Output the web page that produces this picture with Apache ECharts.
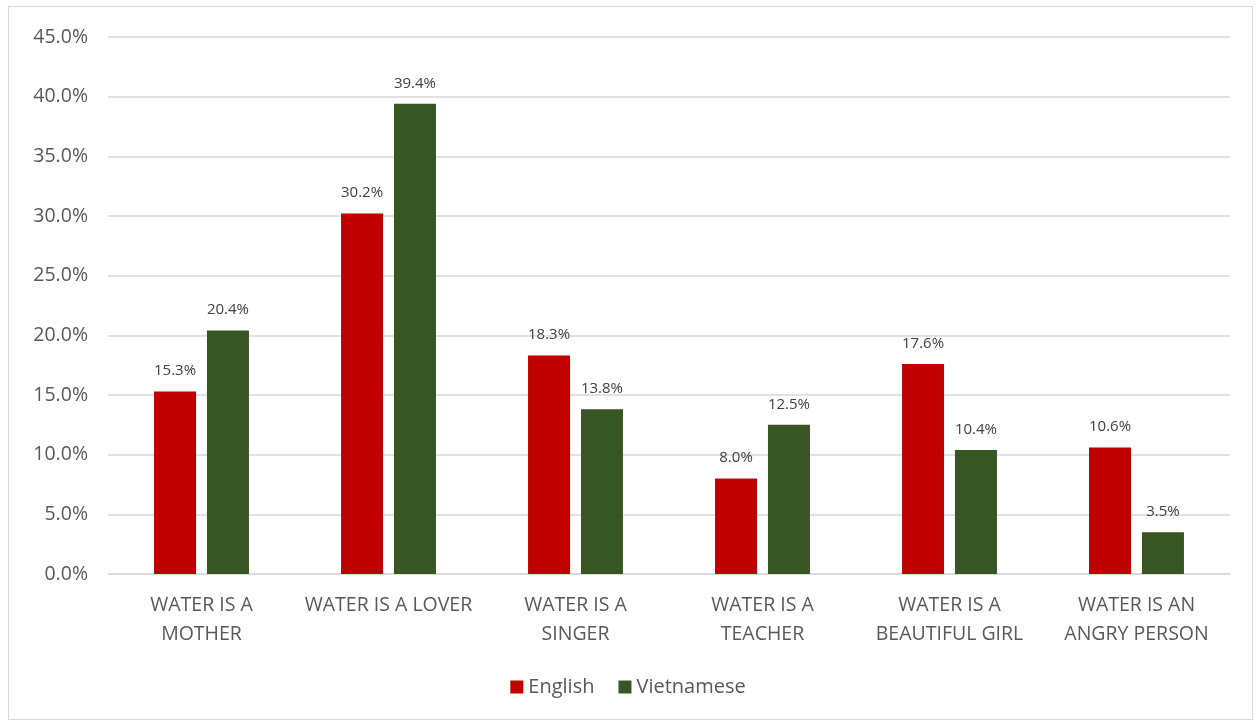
<!DOCTYPE html>
<html><head><meta charset="utf-8">
<script src="https://cdn.jsdelivr.net/npm/echarts@6/dist/echarts.min.js"></script>
<style>html,body{margin:0;padding:0;background:#fff}#c{width:1256px;height:724px}
#frame{position:absolute;left:8px;top:6px;width:1245px;height:714px;border:1px solid #d9d9d9;box-sizing:border-box;pointer-events:none}</style>
</head><body><div id="c"></div><div id="frame"></div>
<script>
const categories = ['WATER IS A\nMOTHER','WATER IS A LOVER','WATER IS A\nSINGER','WATER IS A\nTEACHER','WATER IS A\nBEAUTIFUL GIRL','WATER IS AN\nANGRY PERSON'];
const english = [15.3, 30.2, 18.3, 8.0, 17.6, 10.6];
const vietnamese = [20.4, 39.4, 13.8, 12.5, 10.4, 3.5];
const seriesNames = ['English','Vietnamese'];
const font = 'Open Sans, Liberation Sans, sans-serif';
const chart = echarts.init(document.getElementById('c'));
const lbl = {show:true, position:'top', distance:13, color:'#404040', fontSize:15, fontFamily:font, formatter:p=>p.value.toFixed(1)+'%'};
chart.setOption({
  animation:false,
  grid:{left:108, right:26, top:37, bottom:150},
  legend:{bottom:22, left:'center', itemWidth:13, itemHeight:13, itemGap:24,
    textStyle:{fontSize:20, color:'#595959', fontFamily:font}, icon:'rect', data:seriesNames},
  xAxis:{type:'category', data:categories,
    axisLine:{lineStyle:{color:'#d9d9d9', width:1.5}}, axisTick:{show:false},
    axisLabel:{color:'#595959', fontSize:19.5, fontFamily:font, margin:17, lineHeight:29, interval:0}},
  yAxis:{type:'value', min:0, max:45, interval:5,
    axisLabel:{color:'#595959', fontSize:19.5, fontFamily:font, margin:20, formatter:v=>v.toFixed(1)+'%'},
    splitLine:{lineStyle:{color:'#d9d9d9', width:1.5}}, axisLine:{show:false}, axisTick:{show:false}},
  series:[
    {name:seriesNames[0], type:'bar', data:english, barWidth:42, barGap:'26%', itemStyle:{color:'#C00000'}, label:lbl},
    {name:seriesNames[1], type:'bar', data:vietnamese, barWidth:42, itemStyle:{color:'#375623'}, label:lbl}
  ]
});
</script></body></html>
